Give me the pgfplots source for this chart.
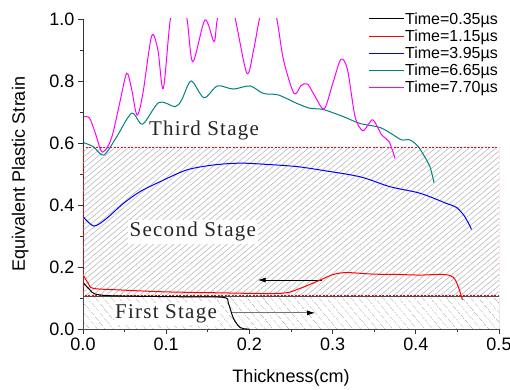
\documentclass[border=0pt]{standalone}
\usepackage{fontspec}
\setmainfont{Liberation Sans}
\newfontfamily\stagefont[LetterSpace=6]{Liberation Serif}
\usepackage{pgfplots}
\pgfplotsset{compat=1.18}
\usetikzlibrary{patterns.meta,arrows.meta}
\definecolor{cteal}{RGB}{0,128,128}
\definecolor{cmag}{RGB}{255,0,255}
\definecolor{cblue}{RGB}{0,0,255}
\definecolor{cred}{RGB}{255,0,0}
\newcommand\legfont{\fontsize{16bp}{18bp}\selectfont}
\begin{document}
\begin{tikzpicture}
\begin{axis}[
  name=ax,
  width=416bp, height=310bp, scale only axis,
  xmin=0, xmax=0.5, ymin=0, ymax=1,
  axis x line*=bottom, axis y line*=left,
  axis line style={black!80, line width=0.9bp},
  xtick={0,0.1,0.2,0.3,0.4,0.5},
  ytick={0,0.2,0.4,0.6,0.8,1.0},
  minor x tick num=1, minor y tick num=1,
  tick align=outside,
  major tick length=5bp, minor tick length=3bp,
  tick style={black!80, line width=0.8bp},
  /pgf/number format/assume math mode=true,
  xticklabel style={/pgf/number format/.cd,fixed,fixed zerofill,precision=1},
  yticklabel style={/pgf/number format/.cd,fixed,fixed zerofill,precision=1},
  tick label style={font=\fontsize{18bp}{20bp}\selectfont},
  label style={font=\fontsize{18bp}{20bp}\selectfont},
  xlabel={Thickness(cm)}, ylabel={Equivalent Plastic Strain},
  xlabel style={at={(axis description cs:0.5,-0.158)}, anchor=center},
  ylabel style={at={(axis description cs:-0.151,0.5)}, anchor=center},
  legend style={draw=none, fill=none, at={(1.0,1.025)}, anchor=north east,
    font=\legfont, nodes={inner sep=1bp}, row sep=2bp, inner sep=0bp},
  legend cell align=left,
  legend image code/.code={\draw[#1] (0bp,0bp) -- (35bp,0bp);},
]
% Second stage region
\addplot[forget plot, draw=none,
  pattern={Lines[angle=40,distance=4.3bp,line width=0.6bp]}, pattern color=black!28]
  coordinates {(0,0.109)(0.5,0.109)(0.5,0.585)(0,0.585)} -- cycle;
\draw[cred, dash pattern=on 2bp off 1.5bp, line width=0.9bp] (axis cs:0,0.109) rectangle (axis cs:0.5,0.585);
% First stage region
\addplot[forget plot, draw=none,
  pattern={Lines[angle=-50,distance=6bp,line width=0.6bp]}, pattern color=black!28]
  coordinates {(0,0)(0.5,0)(0.5,0.105)(0,0.105)} -- cycle;
\draw[black!70, line width=0.8bp] (axis cs:0,0) rectangle (axis cs:0.5,0.105);

\node[font={\fontsize{21bp}{23bp}\stagefont}, text=black!85] at (axis cs:0.1455,0.64) {Third Stage};
\node[font={\fontsize{21bp}{23bp}\stagefont}, text=black!85, fill=white, inner sep=2bp] at (axis cs:0.132,0.313) {Second Stage};
\node[font={\fontsize{21bp}{23bp}\stagefont}, text=black!85, fill=white, inner sep=1.5bp] at (axis cs:0.0998,0.048) {First Stage};

\draw[black, line width=0.8bp, -{Latex[length=8bp,width=5bp]}] (axis cs:0.287,0.158) -- (axis cs:0.21,0.158);
\draw[black!55, line width=0.8bp, -{Latex[length=8bp,width=5bp,black]}] (axis cs:0.179,0.052) -- (axis cs:0.279,0.052);

\addplot[black, line width=1bp, smooth] coordinates {
(0.001,0.147)(0.0084,0.126)(0.0144,0.113)(0.0365,0.107)(0.1166,0.104)(0.1686,0.102)(0.1747,0.083)(0.1807,0.035)(0.1887,0.005)(0.197,0)(0.2,0)};
\addlegendentry{Time=0.35µs}
\addplot[cred, line width=1bp, smooth] coordinates {
(0.001,0.171)(0.0064,0.147)(0.0124,0.131)(0.0445,0.126)(0.0965,0.12)(0.157,0.117)(0.2368,0.115)(0.2608,0.131)(0.285,0.158)(0.301,0.176)(0.317,0.182)(0.349,0.177)(0.377,0.176)(0.405,0.174)(0.433,0.176)(0.445,0.167)(0.451,0.137)(0.456,0.094)};
\addlegendentry{Time=1.15µs}
\addplot[cblue, line width=1bp, smooth] coordinates {
(0.001,0.36)(0.0132,0.332)(0.0285,0.357)(0.0485,0.405)(0.0685,0.443)(0.0925,0.475)(0.1246,0.513)(0.1566,0.529)(0.1887,0.535)(0.2208,0.531)(0.2568,0.524)(0.285,0.513)(0.333,0.491)(0.369,0.459)(0.405,0.438)(0.437,0.405)(0.449,0.392)(0.459,0.362)(0.467,0.321)};
\addlegendentry{Time=3.95µs}
\addplot[cteal, line width=1bp, smooth] coordinates {
(0.001,0.601)(0.0124,0.588)(0.025,0.561)(0.0405,0.62)(0.0585,0.696)(0.0717,0.661)(0.0913,0.731)(0.1106,0.717)(0.1186,0.739)(0.13,0.8)(0.1454,0.746)(0.1615,0.784)(0.1807,0.774)(0.2007,0.784)(0.2167,0.76)(0.2347,0.755)(0.2568,0.728)(0.2728,0.712)(0.2888,0.708)(0.3129,0.685)(0.333,0.663)(0.357,0.65)(0.373,0.626)(0.383,0.61)(0.393,0.61)(0.403,0.588)(0.413,0.545)(0.417,0.524)(0.422,0.472)};
\addlegendentry{Time=6.65µs}
\addplot[cmag, line width=1bp, smooth] coordinates {
(0.001,0.685)(0.008,0.68)(0.015,0.63)(0.0224,0.572)(0.03,0.59)(0.036,0.632)(0.045,0.74)(0.0525,0.825)(0.058,0.78)(0.065,0.69)(0.072,0.76)(0.0825,0.945)(0.09,0.9)(0.0965,0.776)(0.105,1.0)(0.115,1.12)(0.125,1.0)(0.132,0.862)(0.1466,0.997)(0.1575,0.927)(0.1615,1.0)(0.172,1.1)(0.183,1.0)(0.197,0.825)(0.205,0.9)(0.212,1.0)(0.222,1.12)(0.233,1.0)(0.241,0.868)(0.2536,0.76)(0.262,0.785)(0.27,0.79)(0.28,0.745)(0.29,0.71)(0.30,0.79)(0.31,0.87)(0.318,0.835)(0.327,0.685)(0.336,0.64)(0.343,0.66)(0.349,0.674)(0.359,0.626)(0.368,0.604)(0.375,0.55)};
\addlegendentry{Time=7.70µs}
\end{axis}
\pgfresetboundingbox
\path[use as bounding box] ([shift={(-83bp,-61bp)}]ax.south west) rectangle ([shift={(11bp,19bp)}]ax.north east);
\end{tikzpicture}
\end{document}
